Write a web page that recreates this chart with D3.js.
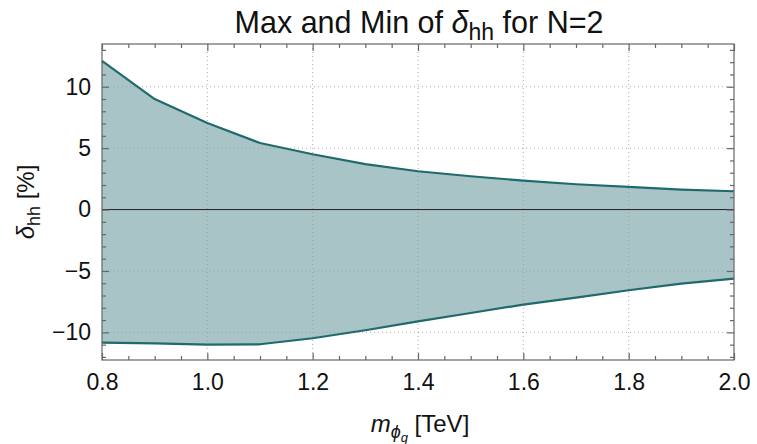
<!DOCTYPE html>
<html>
<head>
<meta charset="utf-8">
<script src="https://cdn.jsdelivr.net/npm/d3@7"></script>
<style>
  html, body { margin: 0; padding: 0; background: #fff; }
  svg { display: block; }
  text { font-family: "Liberation Sans", Arial, sans-serif; fill: #111; }
</style>
</head>
<body>
<svg id="chart" width="757" height="444"></svg>
<script>
// Mass points (TeV) and the max / min of delta_hh (%) at each
const masses   = [0.8, 0.9, 1.0, 1.1, 1.2, 1.3, 1.4, 1.5, 1.6, 1.7, 1.8, 1.9, 2.0];
const deltaMax = [12.1, 9.0, 7.05, 5.42, 4.5, 3.7, 3.12, 2.71, 2.36, 2.06, 1.84, 1.63, 1.49];
const deltaMin = [-10.83, -10.9, -11.0, -10.97, -10.48, -9.83, -9.10, -8.42, -7.74, -7.17, -6.57, -6.03, -5.62];

const xTicks = [0.8, 1.0, 1.2, 1.4, 1.6, 1.8, 2.0];
const yTicks = [-10, -5, 0, 5, 10];

const svg = d3.select("#chart");
const L = 102, R = 734, T = 44, B = 360;

const x = d3.scaleLinear().domain([0.8, 2.0]).range([L, R]);
const y = d3.scaleLinear().domain([-12.25, 13.48]).range([B, T]);

const rows = masses.map((m, i) => ({ m, hi: deltaMax[i], lo: deltaMin[i] }));

// shaded band between the two curves
svg.append("path")
  .datum(rows)
  .attr("fill", "#a8c4c6")
  .attr("d", d3.area().x(d => x(d.m)).y0(d => y(d.lo)).y1(d => y(d.hi)));

// dotted grid
const grid = svg.append("g").attr("stroke", "#9a9a9a").attr("stroke-width", 1)
  .attr("stroke-dasharray", "1,3").attr("opacity", 0.8);
xTicks.slice(1, -1).forEach(v => grid.append("line")
  .attr("x1", x(v)).attr("x2", x(v)).attr("y1", T).attr("y2", B));
yTicks.filter(v => v !== 0).forEach(v => grid.append("line")
  .attr("x1", L).attr("x2", R).attr("y1", y(v)).attr("y2", y(v)));

// zero line
svg.append("line").attr("x1", L).attr("x2", R).attr("y1", y(0)).attr("y2", y(0))
  .attr("stroke", "#222").attr("stroke-width", 1);

// the max and min curves
const lineCol = "#1f6a6d";
[d => d.hi, d => d.lo].forEach(acc => {
  svg.append("path").datum(rows)
    .attr("fill", "none").attr("stroke", lineCol).attr("stroke-width", 2.2)
    .attr("stroke-linejoin", "round")
    .attr("d", d3.line().x(d => x(d.m)).y(d => y(acc(d))));
});

// frame with inward ticks on all four sides
const frameCol = "#666";
svg.append("rect").attr("x", L).attr("y", T).attr("width", R - L).attr("height", B - T)
  .attr("fill", "none").attr("stroke", frameCol).attr("stroke-width", 1.2);

const fmtX = d3.format(".1f");
const fmtY = v => (v < 0 ? "\u2212" + Math.abs(v) : String(v));

const axB = d3.axisBottom(x).tickValues(xTicks).tickSize(-7).tickFormat(fmtX).tickPadding(14);
const axT = d3.axisTop(x).tickValues(xTicks).tickSize(-7).tickFormat("");
const axL = d3.axisLeft(y).tickValues(yTicks).tickSize(-7).tickFormat(fmtY).tickPadding(11);
const axR = d3.axisRight(y).tickValues(yTicks).tickSize(-7).tickFormat("");

const minorX = d3.range(0.85, 2.0, 0.05).filter(v => !xTicks.some(t => Math.abs(t - v) < 1e-6));
const minorY = d3.range(-12, 14, 1).filter(v => !yTicks.includes(v));

function styleAxis(g) {
  g.select(".domain").remove();
  g.selectAll(".tick line").attr("stroke", frameCol).attr("stroke-width", 1.2);
  g.selectAll(".tick text").attr("font-size", 23).attr("fill", "#111")
    .style("font-family", "'Liberation Sans', Arial, sans-serif");
}
svg.append("g").attr("transform", `translate(0,${B})`).call(axB).call(styleAxis);
svg.append("g").attr("transform", `translate(0,${T})`).call(axT).call(styleAxis);
svg.append("g").attr("transform", `translate(${L},0)`).call(axL).call(styleAxis);
svg.append("g").attr("transform", `translate(${R},0)`).call(axR).call(styleAxis);

svg.append("g").attr("transform", `translate(0,${B})`)
  .call(d3.axisBottom(x).tickValues(minorX).tickSize(-4).tickFormat("")).call(styleAxis);
svg.append("g").attr("transform", `translate(0,${T})`)
  .call(d3.axisTop(x).tickValues(minorX).tickSize(-4).tickFormat("")).call(styleAxis);
svg.append("g").attr("transform", `translate(${L},0)`)
  .call(d3.axisLeft(y).tickValues(minorY).tickSize(-4).tickFormat("")).call(styleAxis);
svg.append("g").attr("transform", `translate(${R},0)`)
  .call(d3.axisRight(y).tickValues(minorY).tickSize(-4).tickFormat("")).call(styleAxis);

// title
const title = svg.append("text").attr("x", (L + R) / 2 + 1).attr("y", 33)
  .attr("text-anchor", "middle").attr("font-size", 30.5);
title.append("tspan").text("Max and Min of ");
title.append("tspan").attr("font-style", "italic").text("\u03B4");
title.append("tspan").attr("font-size", 23).attr("dy", 7).text("hh");
title.append("tspan").attr("dy", -7).text(" for N=2");

// x-axis label
const xl = svg.append("text").attr("x", (L + R) / 2 + 2).attr("y", 432)
  .attr("text-anchor", "middle").attr("font-size", 24);
xl.append("tspan").attr("font-style", "italic").text("m");
xl.append("tspan").attr("font-style", "italic").attr("font-size", 18).attr("dy", 6).text("\u03D5");
xl.append("tspan").attr("font-style", "italic").attr("font-size", 13).attr("dy", 4).text("q");
xl.append("tspan").attr("dy", -10).text(" [TeV]");

// y-axis label
const yl = svg.append("text").attr("transform", `translate(34,${(T + B) / 2}) rotate(-90)`)
  .attr("text-anchor", "middle").attr("font-size", 24);
yl.append("tspan").attr("font-style", "italic").text("\u03B4");
yl.append("tspan").attr("font-size", 18).attr("dy", 6).text("hh");
yl.append("tspan").attr("dy", -6).text(" [%]");
</script>
</body>
</html>
